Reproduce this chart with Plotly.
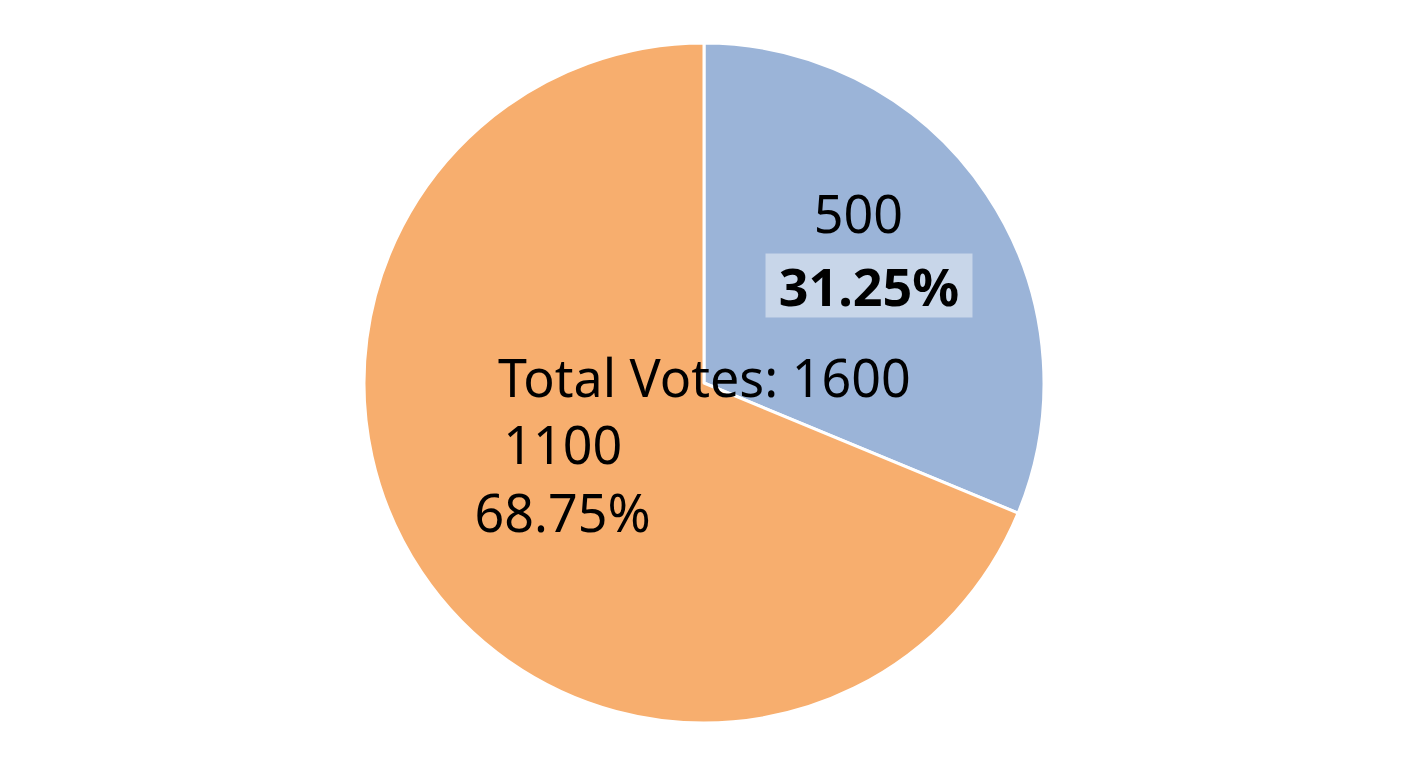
import plotly.graph_objects as go

labels = ["Option A", "Option B"]
values = [500, 1100]
colors = ["#9BB4D8", "#F7AE6E"]

total = sum(values)
pcts = [v / total for v in values]

FONT = "Noto Sans"
SIZE = 52

# blank lines reserve room in the blue slice's label for the boxed bold percentage
texttemplates = [
    "%{value}<br>&nbsp;<br>&nbsp;",
    "%{value}<br>%{percent:.2%}",
]

fig = go.Figure(
    go.Pie(
        labels=labels,
        values=values,
        sort=False,
        direction="clockwise",
        rotation=0,
        marker=dict(colors=colors, line=dict(color="white", width=3)),
        texttemplate=texttemplates,
        textposition="inside",
        insidetextorientation="horizontal",
        textfont=dict(family=FONT, size=SIZE, color="black"),
        hoverinfo="label+value+percent",
        showlegend=False,
    )
)

fig.add_annotation(
    x=0.6185, y=0.644, xref="paper", yref="paper",
    text=f"<b>{pcts[0]*100:.2f}%</b>",
    showarrow=False,
    font=dict(family=FONT, size=SIZE, color="black"),
    bgcolor="rgba(255,255,255,0.45)",
    width=202, height=59, borderpad=2, valign="middle",
)

fig.add_annotation(
    x=0.5, y=0.51, xref="paper", yref="paper",
    text=f"Total Votes: {total}",
    showarrow=False,
    font=dict(family=FONT, size=SIZE, color="black"),
)

fig.update_layout(
    width=1408, height=768,
    margin=dict(l=0, r=16, t=35, b=53),
    paper_bgcolor="white",
    plot_bgcolor="white",
    uniformtext=dict(minsize=SIZE, mode="show"),
)

fig.write_html("out.html")
